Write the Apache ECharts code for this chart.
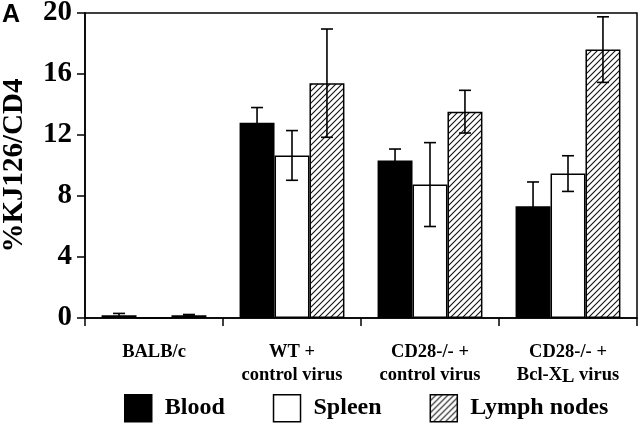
<!DOCTYPE html>
<html><head><meta charset="utf-8">
<script src="https://cdn.jsdelivr.net/npm/echarts@6/dist/echarts.min.js"></script>
<style>html,body{margin:0;padding:0;background:#fff}#c{width:640px;height:428px}</style>
</head><body><div id="c"></div>
<script>
var categories = ['BALB/c', 'WT +\ncontrol virus', 'CD28-/- +\ncontrol virus', 'CD28-/- +\nBcl-X_L virus'];
var seriesNames = ['Blood', 'Spleen', 'Lymph nodes'];
var bloodMean = [0.18, 12.8, 10.33, 7.32];
var bloodErr = [0.12, 1.0, 0.75, 1.6];
var spleenMean = [0, 10.66, 8.75, 9.47];
var spleenErr = [0, 1.63, 2.75, 1.17];
var lymphMean = [0.18, 15.4, 13.53, 17.6];
var lymphErr = [0.05, 3.55, 1.4, 2.15];
var yTicks = [0, 4, 8, 12, 16, 20];

var serif = '"Liberation Serif", "Times New Roman", serif';

function hatch() {
  var s = 6, c = document.createElement('canvas');
  c.width = s; c.height = s;
  var g = c.getContext('2d');
  g.fillStyle = '#fff'; g.fillRect(0, 0, s, s);
  g.strokeStyle = '#111'; g.lineWidth = 1.1;
  g.beginPath();
  g.moveTo(0, s); g.lineTo(s, 0);
  g.moveTo(-1, 1); g.lineTo(1, -1);
  g.moveTo(s - 1, s + 1); g.lineTo(s + 1, s - 1);
  g.stroke();
  return c;
}
var hatchFill = {image: hatch(), repeat: 'repeat'};
var fills = ['#000', '#fff', hatchFill];
var means = [bloodMean, spleenMean, lymphMean];
var errs = [bloodErr, spleenErr, lymphErr];
var catGap = 0.24;

var errData = [];
for (var s = 0; s < 3; s++) {
  for (var i = 0; i < categories.length; i++) {
    if (errs[s][i] > 0) errData.push([i, means[s][i] - errs[s][i], means[s][i] + errs[s][i], s]);
  }
}

var series = [];
for (var s = 0; s < 3; s++) {
  series.push({
    name: seriesNames[s], type: 'bar', data: means[s],
    barGap: '0%', barCategoryGap: (catGap * 100) + '%',
    itemStyle: {color: fills[s], borderColor: '#000', borderWidth: 1.5},
    emphasis: {disabled: true}, silent: true, z: 2
  });
}
series.push({
  type: 'custom', data: errData, z: 5, silent: true,
  renderItem: function (params, api) {
    var ci = api.value(0), lo = api.value(1), hi = api.value(2), si = api.value(3);
    var band = api.size([1, 0])[0];
    var bw = band * (1 - catGap) / 3;
    var cx = api.coord([ci, 0])[0] + (si - 1) * bw;
    var yl = api.coord([ci, lo])[1], yh = api.coord([ci, hi])[1];
    var cap = 6;
    var st = {stroke: '#000', lineWidth: 1.6, fill: null};
    return {type: 'group', children: [
      {type: 'line', shape: {x1: cx, y1: yl, x2: cx, y2: yh}, style: st},
      {type: 'line', shape: {x1: cx - cap, y1: yh, x2: cx + cap, y2: yh}, style: st},
      {type: 'line', shape: {x1: cx - cap, y1: yl, x2: cx + cap, y2: yl}, style: st}
    ]};
  }
});

var chart = echarts.init(document.getElementById('c'), null, {renderer: 'canvas'});
chart.setOption({
  animation: false,
  backgroundColor: '#fff',
  grid: {left: 85, right: 3, top: 13, bottom: 110, containLabel: false, outerBoundsMode: 'none',
         show: true, borderColor: '#000', borderWidth: 1.5, backgroundColor: 'transparent'},
  legend: {
    left: 119, top: 389, itemWidth: 27, itemHeight: 27, itemGap: 48,
    textStyle: {fontFamily: serif, fontWeight: 'bold', fontSize: 24, color: '#000', padding: [0, 0, 0, 8]},
    data: seriesNames.map(function (n, k) {
      return {name: n, icon: 'rect', itemStyle: {color: fills[k], borderColor: '#000', borderWidth: 1.5}};
    }),
    selectedMode: false
  },
  xAxis: {
    type: 'category', data: categories,
    axisLine: {lineStyle: {color: '#000', width: 1.5}},
    axisTick: {show: true, length: 8, lineStyle: {color: '#000', width: 1.5}},
    axisLabel: {
      interval: 0, margin: 23, color: '#000', fontFamily: serif, fontWeight: 'bold', fontSize: 18.5, lineHeight: 23,
      formatter: function (v) {
        return v.split('\n').map(function (line) {
          if (line.indexOf('_L') >= 0) {
            var p = line.split('_L');
            return '{t|' + p[0] + '}{sub|L}{t|' + p[1] + '}';
          }
          return '{t|' + line + '}';
        }).join('\n');
      },
      rich: {
        t: {fontFamily: serif, fontWeight: 'bold', fontSize: 18.5, color: '#000', lineHeight: 23},
        sub: {fontFamily: serif, fontWeight: 'bold', fontSize: 18.5, color: '#000', lineHeight: 23, padding: [11, 0, 0, 0], verticalAlign: 'bottom'}
      }
    }
  },
  yAxis: {
    type: 'value', min: 0, max: 20, interval: 4,
    name: '%KJ126/CD4', nameLocation: 'middle', nameGap: 56, nameRotate: 90,
    nameTextStyle: {fontFamily: serif, fontWeight: 'bold', fontSize: 29, color: '#000'},
    axisLine: {show: true, lineStyle: {color: '#000', width: 1.5}},
    axisTick: {show: true, length: 8, lineStyle: {color: '#000', width: 1.5}},
    splitLine: {show: false},
    axisLabel: {
      margin: 13, color: '#000', fontFamily: serif, fontWeight: 'bold', fontSize: 29,
      formatter: function (v) { return yTicks.indexOf(v) >= 0 ? String(v) : ''; }
    }
  },
  graphic: [{
    type: 'text', left: 2, top: 3,
    style: {text: 'A', fontFamily: '"Liberation Sans", Arial, sans-serif', fontWeight: 'bold', fontSize: 25, fill: '#000'}
  }],
  series: series
});
</script></body></html>
